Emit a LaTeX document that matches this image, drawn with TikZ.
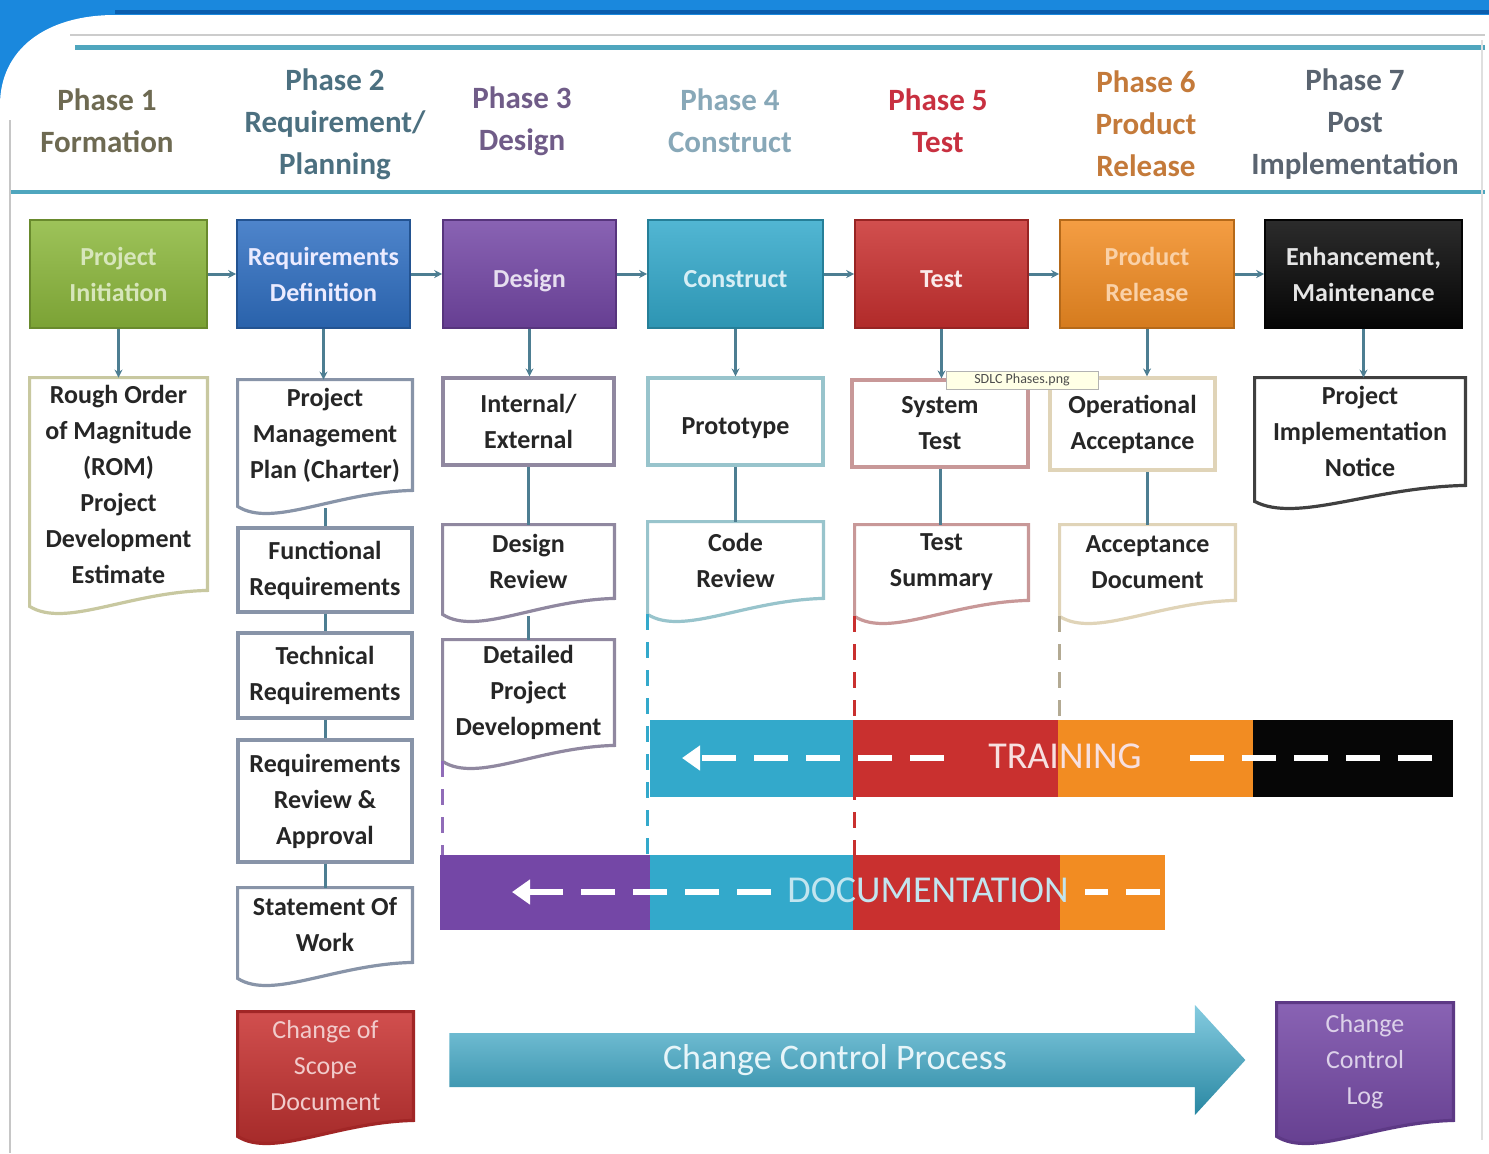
\documentclass[tikz,border=0pt]{standalone}
\usepackage{fontspec}
\setmainfont{Carlito}
\usetikzlibrary{arrows.meta, positioning, calc, backgrounds, shapes.arrows}

\definecolor{frameblue}{HTML}{1A88DD}
\definecolor{framedark}{HTML}{0A5EAE}
\definecolor{headteal}{HTML}{4FA6BE}
\definecolor{connteal}{HTML}{4D7E92}
\definecolor{initgreen}{HTML}{8CB83C}
\definecolor{reqblue}{HTML}{2F6FC2}
\definecolor{despurple}{HTML}{7447A6}
\definecolor{concyan}{HTML}{33A9CB}
\definecolor{testred}{HTML}{C9302F}
\definecolor{relorange}{HTML}{F28C22}
\definecolor{enhblack}{HTML}{060606}
\definecolor{ph1}{HTML}{6E6A52}
\definecolor{ph2}{HTML}{4C7080}
\definecolor{ph3}{HTML}{705C88}
\definecolor{ph4}{HTML}{88A8B8}
\definecolor{ph5}{HTML}{C83040}
\definecolor{ph6}{HTML}{C47A3A}
\definecolor{ph7}{HTML}{5A6470}
\definecolor{romline}{HTML}{C8C8A0}
\definecolor{reqline}{HTML}{8894A8}
\definecolor{desline}{HTML}{9088A0}
\definecolor{conline}{HTML}{98C4CC}
\definecolor{testline}{HTML}{C89898}
\definecolor{relline}{HTML}{E0D4B8}
\definecolor{enhline}{HTML}{404040}
\definecolor{tipfill}{HTML}{FFFFE6}

\tikzset{
  span/.style args={#1/#2/#3/#4}{at={({(#1+#3)/2},{(#2+#4)/2})},
    minimum width={(#3-#1)*0.5pt}, minimum height={(#4-#2)*0.5pt}},
  oneline/.style={text height=16pt, text depth=3pt},
  phasehead/.style={align=center, font=\bfseries\fontsize{15.5}{21}\selectfont},
  phasebox/.style={inner sep=0pt, align=center, font=\bfseries\fontsize{13}{18}\selectfont,
    top color=#1!85!white, bottom color=#1!88!black, draw=#1!75!black, line width=0.8pt},
  docbox/.style={inner sep=0pt, align=center, font=\bfseries\fontsize{13}{18}\selectfont, text=black!85},
  rectdoc/.style={docbox, draw=#1, line width=1.6pt},
  conn/.style={draw=connteal, line width=1.5pt},
  connarrow/.style={conn, -{Stealth[length=4pt,width=4pt]}},
  guide/.style={line width=1.5pt, dash pattern=on 8pt off 6pt},
  segment/.style={inner sep=0pt, fill=#1},
  bartext/.style={inner ysep=0pt, font=\fontsize{19}{22}\selectfont},
  barline/.style={draw=white, line width=3pt, dash pattern=on 17pt off 9pt},
  tooltip/.style={draw=gray!60, fill=tipfill, inner sep=1.5pt, font=\fontsize{7}{8}\selectfont, text=black!70},
}

% document outline with a wavy bottom, drawn behind the node text
\newcommand{\wavedoc}[2]{%
  \begin{scope}[on background layer]
    \path[line width=1.6pt, #2] (#1.north west) -- (#1.north east) -- (#1.south east)
      .. controls ($(#1.south east)!0.45!(#1.south west)+(0,2)$) and ($(#1.south east)!0.8!(#1.south west)+(0,38)$)
      .. ($(#1.south west)+(0,16)$) -- cycle;
  \end{scope}}

\begin{document}
\begin{tikzpicture}[x=0.5pt, y=-0.5pt]
\useasboundingbox (0,0) rectangle (1489,1153);

% slide frame
\begin{scope}[on background layer]
  \fill[frameblue] (0,0) rectangle (1489,1153);
  \fill[white] (0,1153) -- (0,105) .. controls (0,50) and (45,15) .. (115,15) -- (1489,15) -- (1489,1153) -- cycle;
  \draw[framedark, line width=2pt] (115,12) -- (1489,12);
\end{scope}
\draw[gray!40, line width=1pt] (70,35) -- (1485,35);
\draw[headteal, line width=2.5pt] (75,47) -- (1485,47);
\draw[headteal, line width=2pt] (10,192) -- (1485,192);
\draw[gray!45, line width=1.2pt] (10,120) -- (10,1153);
\draw[gray!25, line width=1.2pt] (1482,40) -- (1482,1140);

% phase headings
\node[phasehead, text=ph1] (h1) at (107,121) {Phase 1\\Formation};
\node[phasehead, text=ph2] (h2) at (335,124) {Phase 2\\Requirement/\\Planning};
\node[phasehead, text=ph3] (h3) at (522,121) {Phase 3\\Design};
\node[phasehead, text=ph4] (h4) at (730,121) {Phase 4\\Construct};
\node[phasehead, text=ph5] (h5) at (938,121) {Phase 5\\Test};
\node[phasehead, text=ph6] (h6) at (1146,124) {Phase 6\\Product\\Release};
\node[phasehead, text=ph7] (h7) at (1355,124) {Phase 7\\Post\\Implementation};

% phase boxes
\node[phasebox=initgreen, text=initgreen!35!white, span=30/220/207/328] (init) {Project\\Initiation};
\node[phasebox=reqblue, text=white!92!blue, span=237/220/410/328] (reqdef) {Requirements\\Definition};
\node[phasebox=despurple, text=despurple!18!white, oneline, span=443/220/616/328] (design) {Design};
\node[phasebox=concyan, text=concyan!20!white, oneline, span=648/220/823/328] (construct) {Construct};
\node[phasebox=testred, text=testred!10!white, oneline, span=855/220/1028/328] (test) {Test};
\node[phasebox=relorange, text=relorange!40!white, span=1060/220/1234/328] (release) {Product\\Release};
\node[phasebox=enhblack, text=white!90!black, span=1265/220/1462/328] (enhance) {Enhancement,\\Maintenance};

\draw[connarrow] (init) -- (reqdef);
\draw[connarrow] (reqdef) -- (design);
\draw[connarrow] (design) -- (construct);
\draw[connarrow] (construct) -- (test);
\draw[connarrow] (test) -- (release);
\draw[connarrow] (release) -- (enhance);

% deliverables
\node[docbox, span=30/378/207/590] (rom) {Rough Order\\of Magnitude\\(ROM)\\Project\\Development\\Estimate};
\wavedoc{rom}{draw=romline}

\node[docbox, span=238/380/412/490] (pmp) {Project\\Management\\Plan (Charter)};
\wavedoc{pmp}{draw=reqline}
\node[rectdoc=reqline, span=238/528/412/612] (func) {Functional\\Requirements};
\node[rectdoc=reqline, span=238/633/412/718] (tech) {Technical\\Requirements};
\node[rectdoc=reqline, span=238/740/412/862] (review) {Requirements\\Review \&\\Approval};
\node[docbox, span=238/888/412/962] (sow) {Statement Of\\Work};
\wavedoc{sow}{draw=reqline}

\node[rectdoc=desline, span=443/378/614/465] (intext) {Internal/\\External};
\node[docbox, span=443/525/614/598] (desrev) {Design\\Review};
\wavedoc{desrev}{draw=desline}
\node[docbox, span=443/640/614/745] (detail) {Detailed\\Project\\Development};
\wavedoc{detail}{draw=desline}

\node[rectdoc=conline, oneline, span=648/378/823/465] (proto) {Prototype};
\node[docbox, span=648/522/823/598] (coderev) {Code\\Review};
\wavedoc{coderev}{draw=conline}

\node[rectdoc=testline, span=852/380/1028/467] (systest) {System\\Test};
\node[docbox, span=855/525/1028/600] (testsum) {Test\\Summary};
\wavedoc{testsum}{draw=testline}

\node[rectdoc=relline, span=1050/378/1215/470] (opacc) {Operational\\Acceptance};
\node[docbox, span=1060/525/1235/600] (accdoc) {Acceptance\\Document};
\wavedoc{accdoc}{draw=relline}

\node[docbox, span=1255/378/1465/485] (notice) {Project\\Implementation\\Notice};
\wavedoc{notice}{draw=enhline}

\node[tooltip, minimum width=76pt] (tip) at (1022,380) {SDLC Phases.png};

% links down each column
\draw[connarrow] (init.south) -- (init.south |- rom.north);
\draw[connarrow] (reqdef.south) -- (reqdef.south |- pmp.north);
\draw[connarrow] (design.south) -- (design.south |- intext.north);
\draw[connarrow] (construct.south) -- (construct.south |- proto.north);
\draw[connarrow] (test.south) -- (test.south |- systest.north);
\draw[connarrow] (release.south) -- (release.south |- opacc.north);
\draw[connarrow] (enhance.south) -- (enhance.south |- notice.north);

\draw[conn] ($(pmp.south)+(0,18)$) -- (func.north);
\draw[conn] (func) -- (tech);
\draw[conn] (tech) -- (review);
\draw[conn] (review) -- (sow);
\draw[conn] (intext.south) -- (intext.south |- desrev.north);
\draw[conn] ($(desrev.south)+(0,18)$) -- (detail.north);
\draw[conn] (proto) -- (coderev);
\draw[conn] (systest.south) -- (systest.south |- testsum.north);
\draw[conn] (accdoc.north) -- (accdoc.north |- opacc.south);

% training bar
\node[segment=concyan, span=650/720/853/797] (trcyan) {};
\node[segment=testred, span=853/720/1058/797] (trred) {};
\node[segment=relorange, span=1058/720/1253/797] (trorange) {};
\node[segment=enhblack, span=1253/720/1453/797] (trblack) {};
\node[bartext, inner xsep=22pt, text=testred!15!white] (trtext) at (1065,756) {TRAINING};
\coordinate (trend) at (1432,758);
\coordinate (trtip) at (682,758);
\draw[barline] (trend) -- (trtext.east |- trend);
\draw[barline, -{Triangle[length=9pt,width=12pt]}] (trtext.west |- trtip) -- (trtip);

% documentation bar
\node[segment=despurple, span=440/855/650/930] (dcpurple) {};
\node[segment=concyan, span=650/855/853/930] (dccyan) {};
\node[segment=testred, span=853/855/1060/930] (dcred) {};
\node[segment=relorange, span=1060/855/1165/930] (dcorange) {};
\node[bartext, inner xsep=8pt, text=concyan!30!white] (dctext) at (928,890) {DOCUMENTATION};
\coordinate (dcend) at (1160,892);
\coordinate (dctip) at (512,892);
\draw[barline] (dcend) -- (dctext.east |- dcend);
\draw[barline, -{Triangle[length=9pt,width=12pt]}] (dctext.west |- dctip) -- (dctip);

% phase guides down to the bars
\begin{scope}[on background layer]
  \draw[guide, despurple!80] ($(detail.south west)+(0,16)$) -- (detail.south west |- dcpurple.north);
  \draw[guide, concyan] ($(coderev.south west)+(0,16)$) -- (coderev.south west |- dccyan.north);
  \draw[guide, testred] ($(testsum.south west)+(0,16)$) -- (testsum.south west |- dcred.north);
  \draw[guide, relline!80!black] ($(accdoc.south west)+(0,16)$) -- (accdoc.south west |- trorange.north);
\end{scope}

% change control
\node[docbox, font=\fontsize{13}{18}\selectfont, text=testred!25!white, span=238/1012/413/1120] (scope) {Change of\\Scope\\Document};
\wavedoc{scope}{draw=testred!80!black, top color=testred!85!white, bottom color=testred!80!black}
\node[single arrow, single arrow head extend=14pt, single arrow tip angle=95,
  minimum height=398pt, inner ysep=5.5pt, top color=concyan!60!white, bottom color=concyan!80!black,
  font=\fontsize{18}{20}\selectfont, text=concyan!12!white] (ccp) at (835,1060) {Change Control Process};
\node[docbox, font=\fontsize{13}{18}\selectfont, text=despurple!25!white, span=1277/1003/1453/1120] (cclog) {Change\\Control\\Log};
\wavedoc{cclog}{draw=despurple!80!black, top color=despurple!85!white, bottom color=despurple!85!black}
\end{tikzpicture}
\end{document}
